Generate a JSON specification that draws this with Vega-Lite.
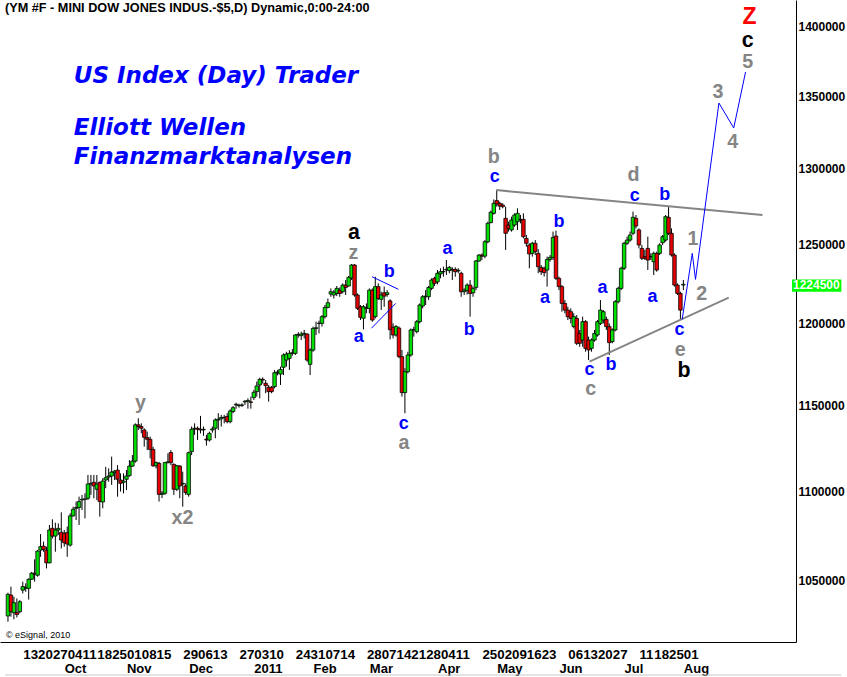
{
"$schema": "https://vega.github.io/schema/vega-lite/v6.json",
"width": 796,
"height": 642,
"autosize": {"type": "none"},
"padding": {"left": 0, "top": 0, "right": 51, "bottom": 35},
"background": "#ffffff",
"config": {"view": {"stroke": null}, "axis": {"labelOverlap": false, "labelFlush": false, "labelBound": false}},
"resolve": {"axis": {"x": "independent"}},
"datasets": {
"candles": [
{"n":2,"o":10310,"h":10435,"l":10279,"c":10426},
{"n":3,"o":10422,"h":10468,"l":10306,"c":10333},
{"n":4,"o":10327,"h":10413,"l":10292,"c":10381},
{"n":5,"o":10329,"h":10404,"l":10302,"c":10318},
{"n":6,"o":10333,"h":10395,"l":10324,"c":10386},
{"n":7,"o":10449,"h":10495,"l":10431,"c":10468},
{"n":8,"o":10459,"h":10486,"l":10440,"c":10464},
{"n":9,"o":10459,"h":10513,"l":10398,"c":10508},
{"n":10,"o":10508,"h":10548,"l":10504,"c":10541},
{"n":11,"o":10541,"h":10617,"l":10495,"c":10536},
{"n":12,"o":10530,"h":10668,"l":10522,"c":10663},
{"n":13,"o":10668,"h":10757,"l":10631,"c":10687},
{"n":14,"o":10690,"h":10715,"l":10659,"c":10672},
{"n":15,"o":10668,"h":10687,"l":10567,"c":10598},
{"n":16,"o":10598,"h":10808,"l":10595,"c":10780},
{"n":17,"o":10789,"h":10840,"l":10733,"c":10746},
{"n":18,"o":10746,"h":10821,"l":10659,"c":10780},
{"n":19,"o":10780,"h":10817,"l":10752,"c":10789},
{"n":20,"o":10767,"h":10879,"l":10677,"c":10724},
{"n":21,"o":10762,"h":10780,"l":10687,"c":10709},
{"n":22,"o":10765,"h":10799,"l":10631,"c":10702},
{"n":23,"o":10696,"h":10874,"l":10687,"c":10859},
{"n":24,"o":10859,"h":10911,"l":10855,"c":10896},
{"n":25,"o":10902,"h":10940,"l":10836,"c":10906},
{"n":26,"o":10906,"h":10968,"l":10808,"c":10940},
{"n":27,"o":10949,"h":10978,"l":10892,"c":10953},
{"n":28,"o":10953,"h":10987,"l":10845,"c":10955},
{"n":29,"o":10959,"h":11092,"l":10949,"c":11040},
{"n":30,"o":11040,"h":11092,"l":10978,"c":11044},
{"n":31,"o":11050,"h":11092,"l":10959,"c":11029},
{"n":32,"o":11010,"h":11092,"l":10949,"c":11040},
{"n":33,"o":11050,"h":11053,"l":10855,"c":10940},
{"n":34,"o":10938,"h":11073,"l":10902,"c":11057},
{"n":35,"o":11063,"h":11139,"l":11016,"c":11076},
{"n":36,"o":11080,"h":11130,"l":11053,"c":11086},
{"n":37,"o":11086,"h":11198,"l":11035,"c":11109},
{"n":38,"o":11105,"h":11120,"l":11063,"c":11114},
{"n":39,"o":11120,"h":11149,"l":10968,"c":11067},
{"n":40,"o":11063,"h":11101,"l":10997,"c":11044},
{"n":41,"o":11050,"h":11101,"l":10987,"c":11057},
{"n":42,"o":11067,"h":11120,"l":11006,"c":11086},
{"n":43,"o":11088,"h":11178,"l":11082,"c":11143},
{"n":44,"o":11143,"h":11207,"l":11139,"c":11172},
{"n":45,"o":11172,"h":11393,"l":11163,"c":11384},
{"n":46,"o":11384,"h":11423,"l":11354,"c":11374},
{"n":47,"o":11374,"h":11393,"l":11334,"c":11364},
{"n":48,"o":11354,"h":11364,"l":11256,"c":11311},
{"n":49,"o":11309,"h":11344,"l":11236,"c":11299},
{"n":50,"o":11299,"h":11315,"l":11188,"c":11240},
{"n":51,"o":11240,"h":11256,"l":11139,"c":11145},
{"n":52,"o":11145,"h":11170,"l":11130,"c":11163},
{"n":53,"o":11159,"h":11168,"l":10940,"c":10981},
{"n":54,"o":10981,"h":11000,"l":10960,"c":10987},
{"n":55,"o":10987,"h":11168,"l":10978,"c":11163},
{"n":56,"o":11163,"h":11217,"l":11159,"c":11168},
{"n":57,"o":11222,"h":11236,"l":11149,"c":11163},
{"n":58,"o":11153,"h":11159,"l":10978,"c":11010},
{"n":59,"o":11010,"h":11150,"l":11000,"c":11145},
{"n":60,"o":11143,"h":11149,"l":10959,"c":11029},
{"n":61,"o":11040,"h":11111,"l":10911,"c":11044},
{"n":62,"o":11029,"h":11044,"l":10978,"c":10991},
{"n":63,"o":10981,"h":11227,"l":10968,"c":11221},
{"n":64,"o":11227,"h":11374,"l":11207,"c":11358},
{"n":65,"o":11360,"h":11393,"l":11325,"c":11364},
{"n":66,"o":11364,"h":11374,"l":11295,"c":11358},
{"n":67,"o":11358,"h":11437,"l":11334,"c":11354},
{"n":68,"o":11354,"h":11374,"l":11319,"c":11358},
{"n":69,"o":11300,"h":11325,"l":11262,"c":11295},
{"n":70,"o":11295,"h":11344,"l":11286,"c":11334},
{"n":71,"o":11354,"h":11374,"l":11338,"c":11360},
{"n":72,"o":11364,"h":11423,"l":11305,"c":11413},
{"n":73,"o":11413,"h":11453,"l":11354,"c":11417},
{"n":74,"o":11420,"h":11443,"l":11374,"c":11427},
{"n":75,"o":11427,"h":11443,"l":11393,"c":11429},
{"n":76,"o":11433,"h":11453,"l":11393,"c":11403},
{"n":77,"o":11403,"h":11476,"l":11393,"c":11466},
{"n":78,"o":11463,"h":11496,"l":11453,"c":11486},
{"n":79,"o":11502,"h":11516,"l":11480,"c":11506},
{"n":80,"o":11498,"h":11510,"l":11486,"c":11500},
{"n":81,"o":11500,"h":11512,"l":11490,"c":11502},
{"n":82,"o":11520,"h":11532,"l":11502,"c":11524},
{"n":83,"o":11524,"h":11542,"l":11480,"c":11528},
{"n":84,"o":11520,"h":11552,"l":11480,"c":11518},
{"n":85,"o":11546,"h":11592,"l":11532,"c":11578},
{"n":86,"o":11582,"h":11642,"l":11552,"c":11616},
{"n":87,"o":11622,"h":11666,"l":11542,"c":11656},
{"n":88,"o":11656,"h":11668,"l":11630,"c":11652},
{"n":89,"o":11632,"h":11652,"l":11572,"c":11618},
{"n":90,"o":11608,"h":11622,"l":11522,"c":11582},
{"n":91,"o":11608,"h":11616,"l":11572,"c":11582},
{"n":92,"o":11612,"h":11712,"l":11602,"c":11696},
{"n":93,"o":11696,"h":11712,"l":11680,"c":11700},
{"n":94,"o":11688,"h":11733,"l":11622,"c":11716},
{"n":95,"o":11729,"h":11814,"l":11682,"c":11804},
{"n":96,"o":11773,"h":11824,"l":11733,"c":11810},
{"n":97,"o":11783,"h":11834,"l":11713,"c":11814},
{"n":98,"o":11814,"h":11840,"l":11800,"c":11818},
{"n":99,"o":11814,"h":11933,"l":11804,"c":11927},
{"n":100,"o":11927,"h":11945,"l":11910,"c":11931},
{"n":101,"o":11923,"h":11948,"l":11896,"c":11933},
{"n":102,"o":11933,"h":11958,"l":11906,"c":11937},
{"n":103,"o":11933,"h":11937,"l":11763,"c":11773},
{"n":104,"o":11747,"h":11845,"l":11682,"c":11834},
{"n":105,"o":11834,"h":11979,"l":11824,"c":11968},
{"n":106,"o":11968,"h":12010,"l":11927,"c":11972},
{"n":107,"o":11999,"h":12016,"l":11937,"c":12000},
{"n":108,"o":11999,"h":12051,"l":11979,"c":12041},
{"n":109,"o":12041,"h":12114,"l":12030,"c":12099},
{"n":110,"o":12099,"h":12155,"l":12093,"c":12128},
{"n":111,"o":12183,"h":12219,"l":12166,"c":12198},
{"n":112,"o":12177,"h":12208,"l":12155,"c":12194},
{"n":113,"o":12187,"h":12234,"l":12170,"c":12219},
{"n":114,"o":12208,"h":12225,"l":12166,"c":12187},
{"n":115,"o":12198,"h":12251,"l":12187,"c":12240},
{"n":116,"o":12240,"h":12272,"l":12177,"c":12225},
{"n":117,"o":12234,"h":12298,"l":12230,"c":12289},
{"n":118,"o":12285,"h":12374,"l":12272,"c":12368},
{"n":119,"o":12368,"h":12374,"l":12166,"c":12177},
{"n":120,"o":12177,"h":12187,"l":12083,"c":12093},
{"n":121,"o":12103,"h":12114,"l":12020,"c":12037},
{"n":122,"o":12031,"h":12114,"l":11962,"c":12103},
{"n":123,"o":12093,"h":12124,"l":12062,"c":12098},
{"n":124,"o":12093,"h":12219,"l":12062,"c":12208},
{"n":125,"o":12208,"h":12219,"l":12010,"c":12020},
{"n":126,"o":12041,"h":12293,"l":12030,"c":12230},
{"n":127,"o":12230,"h":12251,"l":12145,"c":12155},
{"n":128,"o":12150,"h":12198,"l":12083,"c":12177},
{"n":129,"o":12191,"h":12230,"l":12103,"c":12170},
{"n":130,"o":12180,"h":12208,"l":12166,"c":12191},
{"n":131,"o":12140,"h":12150,"l":11900,"c":11960},
{"n":132,"o":11975,"h":11999,"l":11906,"c":11927},
{"n":133,"o":11927,"h":11989,"l":11917,"c":11979},
{"n":134,"o":11970,"h":11980,"l":11784,"c":11794},
{"n":135,"o":11794,"h":11835,"l":11552,"c":11576},
{"n":136,"o":11576,"h":11723,"l":11453,"c":11702},
{"n":137,"o":11702,"h":11824,"l":11692,"c":11804},
{"n":138,"o":11804,"h":11968,"l":11794,"c":11958},
{"n":139,"o":11958,"h":11979,"l":11917,"c":11962},
{"n":140,"o":11948,"h":12020,"l":11937,"c":12010},
{"n":141,"o":12010,"h":12124,"l":11999,"c":12114},
{"n":142,"o":12108,"h":12177,"l":12093,"c":12166},
{"n":143,"o":12166,"h":12208,"l":12114,"c":12170},
{"n":144,"o":12166,"h":12234,"l":12145,"c":12225},
{"n":145,"o":12219,"h":12283,"l":12208,"c":12272},
{"n":146,"o":12283,"h":12293,"l":12234,"c":12251},
{"n":147,"o":12260,"h":12336,"l":12245,"c":12315},
{"n":148,"o":12311,"h":12347,"l":12283,"c":12325},
{"n":149,"o":12325,"h":12357,"l":12293,"c":12326},
{"n":150,"o":12336,"h":12400,"l":12304,"c":12340},
{"n":151,"o":12332,"h":12362,"l":12315,"c":12353},
{"n":152,"o":12340,"h":12353,"l":12272,"c":12336},
{"n":153,"o":12340,"h":12353,"l":12293,"c":12325},
{"n":154,"o":12330,"h":12347,"l":12315,"c":12334},
{"n":155,"o":12315,"h":12325,"l":12166,"c":12198},
{"n":156,"o":12198,"h":12219,"l":12177,"c":12208},
{"n":157,"o":12205,"h":12251,"l":12180,"c":12240},
{"n":158,"o":12240,"h":12272,"l":12041,"c":12187},
{"n":159,"o":12191,"h":12230,"l":12166,"c":12219},
{"n":160,"o":12225,"h":12400,"l":12208,"c":12394},
{"n":161,"o":12394,"h":12438,"l":12389,"c":12432},
{"n":162,"o":12432,"h":12443,"l":12400,"c":12425},
{"n":163,"o":12425,"h":12529,"l":12411,"c":12518},
{"n":164,"o":12518,"h":12649,"l":12508,"c":12638},
{"n":165,"o":12643,"h":12722,"l":12638,"c":12711},
{"n":166,"o":12704,"h":12796,"l":12695,"c":12770},
{"n":167,"o":12788,"h":12858,"l":12748,"c":12766},
{"n":168,"o":12770,"h":12781,"l":12726,"c":12752},
{"n":169,"o":12759,"h":12770,"l":12737,"c":12748},
{"n":170,"o":12671,"h":12748,"l":12465,"c":12573},
{"n":171,"o":12627,"h":12649,"l":12584,"c":12605},
{"n":172,"o":12595,"h":12682,"l":12584,"c":12660},
{"n":173,"o":12627,"h":12704,"l":12616,"c":12693},
{"n":174,"o":12649,"h":12737,"l":12595,"c":12704},
{"n":175,"o":12660,"h":12693,"l":12638,"c":12664},
{"n":176,"o":12664,"h":12704,"l":12540,"c":12551},
{"n":177,"o":12540,"h":12562,"l":12486,"c":12508},
{"n":178,"o":12497,"h":12508,"l":12347,"c":12439},
{"n":179,"o":12443,"h":12518,"l":12422,"c":12508},
{"n":180,"o":12508,"h":12529,"l":12432,"c":12454},
{"n":181,"o":12443,"h":12470,"l":12315,"c":12357},
{"n":182,"o":12353,"h":12368,"l":12304,"c":12325},
{"n":183,"o":12347,"h":12357,"l":12294,"c":12319},
{"n":184,"o":12336,"h":12422,"l":12230,"c":12404},
{"n":185,"o":12404,"h":12432,"l":12389,"c":12417},
{"n":186,"o":12417,"h":12584,"l":12400,"c":12546},
{"n":187,"o":12555,"h":12590,"l":12272,"c":12283},
{"n":188,"o":12283,"h":12294,"l":12208,"c":12230},
{"n":189,"o":12230,"h":12240,"l":12072,"c":12124},
{"n":190,"o":12124,"h":12145,"l":12062,"c":12082},
{"n":191,"o":12082,"h":12103,"l":12020,"c":12041},
{"n":192,"o":12072,"h":12093,"l":11999,"c":12030},
{"n":193,"o":11979,"h":12062,"l":11968,"c":12041},
{"n":194,"o":12030,"h":12051,"l":11865,"c":11876},
{"n":195,"o":11937,"h":11958,"l":11855,"c":11876},
{"n":196,"o":11896,"h":12041,"l":11855,"c":12010},
{"n":197,"o":12010,"h":12020,"l":11824,"c":11845},
{"n":198,"o":11896,"h":11917,"l":11773,"c":11835},
{"n":199,"o":11845,"h":11906,"l":11824,"c":11896},
{"n":200,"o":11896,"h":11958,"l":11886,"c":11937},
{"n":201,"o":11927,"h":12020,"l":11917,"c":12010},
{"n":202,"o":11999,"h":12145,"l":11989,"c":12082},
{"n":203,"o":12020,"h":12082,"l":11999,"c":12072},
{"n":204,"o":12024,"h":12041,"l":11958,"c":11979},
{"n":205,"o":11979,"h":11999,"l":11804,"c":11880},
{"n":206,"o":11886,"h":11968,"l":11876,"c":11958},
{"n":207,"o":11958,"h":12145,"l":11950,"c":12135},
{"n":208,"o":12135,"h":12230,"l":12124,"c":12219},
{"n":209,"o":12219,"h":12357,"l":12208,"c":12347},
{"n":210,"o":12347,"h":12518,"l":12336,"c":12508},
{"n":211,"o":12508,"h":12551,"l":12497,"c":12529},
{"n":212,"o":12529,"h":12584,"l":12518,"c":12562},
{"n":213,"o":12573,"h":12715,"l":12562,"c":12678},
{"n":214,"o":12671,"h":12693,"l":12605,"c":12621},
{"n":215,"o":12595,"h":12605,"l":12475,"c":12497},
{"n":216,"o":12475,"h":12497,"l":12400,"c":12411},
{"n":217,"o":12422,"h":12465,"l":12400,"c":12411},
{"n":218,"o":12475,"h":12551,"l":12336,"c":12400},
{"n":219,"o":12422,"h":12443,"l":12400,"c":12420},
{"n":220,"o":12389,"h":12454,"l":12304,"c":12443},
{"n":221,"o":12443,"h":12454,"l":12325,"c":12336},
{"n":222,"o":12443,"h":12508,"l":12432,"c":12497},
{"n":223,"o":12512,"h":12562,"l":12497,"c":12551},
{"n":224,"o":12529,"h":12693,"l":12518,"c":12682},
{"n":225,"o":12678,"h":12748,"l":12562,"c":12573},
{"n":226,"o":12573,"h":12605,"l":12422,"c":12432},
{"n":227,"o":12432,"h":12443,"l":12230,"c":12240},
{"n":228,"o":12240,"h":12251,"l":12177,"c":12187},
{"n":229,"o":12187,"h":12198,"l":12024,"c":12082},
{"n":230,"o":12240,"h":12272,"l":12208,"c":12245}
],
"lines": [
{"id":"upper","kind":"trend","n":166.8,"p":12858},
{"id":"upper","kind":"trend","n":256.7,"p":12693},
{"id":"lower","kind":"trend","n":198.3,"p":11764},
{"id":"lower","kind":"trend","n":245.3,"p":12161},
{"id":"tri1","kind":"wave","n":124.9,"p":12293},
{"id":"tri1","kind":"wave","n":133.8,"p":12213},
{"id":"tri2","kind":"wave","n":124.7,"p":11969},
{"id":"tri2","kind":"wave","n":132.9,"p":12124},
{"id":"proj","kind":"wave","n":229.6,"p":12024},
{"id":"proj","kind":"wave","n":233,"p":12443},
{"id":"proj","kind":"wave","n":234.1,"p":12276},
{"id":"proj","kind":"wave","n":242,"p":13452},
{"id":"proj","kind":"wave","n":247,"p":13279},
{"id":"proj","kind":"wave","n":251,"p":13670}
],
"notes": [
{"n":46.7,"p":11514,"t":"y","g":"minute"},
{"n":60.9,"p":10846,"t":"x2","g":"minute"},
{"n":118.8,"p":12578,"t":"a","g":"minor"},
{"n":118.6,"p":12443,"t":"z","g":"minute"},
{"n":130.7,"p":12325,"t":"b","g":"minuette"},
{"n":120.4,"p":11912,"t":"a","g":"minuette"},
{"n":135.6,"p":11390,"t":"c","g":"minuette"},
{"n":135.7,"p":11278,"t":"a","g":"minute"},
{"n":150.4,"p":12471,"t":"a","g":"minuette"},
{"n":157.7,"p":11958,"t":"b","g":"minuette"},
{"n":166,"p":13078,"t":"b","g":"minute"},
{"n":166.3,"p":12945,"t":"c","g":"minuette"},
{"n":188,"p":12649,"t":"b","g":"minuette"},
{"n":183.3,"p":12161,"t":"a","g":"minuette"},
{"n":198.3,"p":11712,"t":"c","g":"minuette"},
{"n":198.7,"p":11598,"t":"c","g":"minute"},
{"n":205.6,"p":11743,"t":"b","g":"minuette"},
{"n":202.7,"p":12219,"t":"a","g":"minuette"},
{"n":213.2,"p":12956,"t":"d","g":"minute"},
{"n":213.6,"p":12820,"t":"c","g":"minuette"},
{"n":223.7,"p":12825,"t":"b","g":"minuette"},
{"n":219.6,"p":12164,"t":"a","g":"minuette"},
{"n":233.2,"p":12536,"t":"1","g":"minute"},
{"n":236.2,"p":12183,"t":"2","g":"minute"},
{"n":228.7,"p":11955,"t":"c","g":"minuette"},
{"n":228.9,"p":11836,"t":"e","g":"minute"},
{"n":230.2,"p":11706,"t":"b","g":"minor"},
{"n":241.7,"p":13529,"t":"3","g":"minute"},
{"n":246.7,"p":13182,"t":"4","g":"minute"},
{"n":251.7,"p":13741,"t":"5","g":"minute"},
{"n":251.7,"p":13892,"t":"c","g":"minor"},
{"n":252.3,"p":14066,"t":"Z","g":"intermediate"}
],
"titles": [
{"n":24.2,"p":13595,"t":"US Index (Day) Trader"},
{"n":24.2,"p":13234,"t":"Elliott Wellen"},
{"n":24.2,"p":13033,"t":"Finanzmarktanalysen"}
],
"captions": [
{"id":"header","n":1,"p":14105,"t":"(YM #F - MINI DOW JONES INDUS.-$5,D) Dynamic,0:00-24:00"},
{"id":"copyright","n":1.33,"p":10193,"t":"© eSignal, 2010"}
],
"last": [
{"n":266.67,"n2":283.33,"lo":12197,"hi":12276,"p":12245,"t":"1224500"}
],
"frame": [
{"n":1,"n2":283.33,"p":9999}
]
},
"layer": [
{
"data": {"name": "candles"},
"mark": {"type": "rule", "color": "#000000", "strokeWidth": 1},
"encoding": {
"x": {"field": "n", "type": "quantitative", "title": null,
"scale": {"domain": [1, 266.3333], "nice": false, "zero": false},
"axis": {"orient": "bottom", "title": null, "grid": false, "ticks": false, "tickSize": 0,
"values": [7,12,17,22,27,32,37,42,47,52,61,66,71,80,85,90,99,104,109,114,123,128,133,138,143,148,153,162,167,172,177,182,191,196,201,206,215,220,225,230],
"labelExpr": "['13','20','27','04','11','18','25','01','08','15','29','06','13','27','03','10','24','31','07','14','28','07','14','21','28','04','11','25','02','09','16','23','06','13','20','27','11','18','25','01'][indexof([7,12,17,22,27,32,37,42,47,52,61,66,71,80,85,90,99,104,109,114,123,128,133,138,143,148,153,162,167,172,177,182,191,196,201,206,215,220,225,230],datum.value)]",
"labelAlign": "left", "labelBaseline": "top", "labelPadding": 5,
"labelOverlap": false, "labelFlush": false, "labelBound": false,
"labelFont": "Liberation Sans", "labelFontWeight": "bold", "labelFontSize": 13.3, "labelColor": "#000000",
"domainColor": "#000000", "domainWidth": 1}},
"y": {"field": "l", "type": "quantitative", "title": null,
"scale": {"type": "log", "domain": [10171.6, 14190.1], "nice": false},
"axis": {"orient": "right", "title": null, "grid": false, "ticks": false, "tickSize": 0,
"values": [10500,11000,11500,12000,12500,13000,13500,14000],
"labelExpr": "format(datum.value*100,'d')",
"labelAlign": "left", "labelBaseline": "middle", "labelPadding": 2,
"labelOverlap": false, "labelFlush": false, "labelBound": false,
"labelFont": "Liberation Sans", "labelFontWeight": "bold", "labelFontSize": 12, "labelColor": "#000000",
"domainColor": "#000000", "domainWidth": 1}},
"y2": {"field": "h"}
}
},
{
"data": {"name": "candles"},
"mark": {"type": "bar", "width": 3.5, "stroke": "#000000", "strokeWidth": 0.8},
"encoding": {
"x": {"field": "n", "type": "quantitative", "title": null, "axis": null},
"y": {"field": "o", "type": "quantitative", "title": null},
"y2": {"field": "c"},
"fill": {"condition": {"test": "datum.c >= datum.o", "value": "#00e000"}, "value": "#e80000"}
}
},
{
"data": {"name": "lines"},
"transform": [{"filter": "datum.kind == 'trend'"}],
"mark": {"type": "line", "color": "#858585", "strokeWidth": 2},
"encoding": {
"x": {"field": "n", "type": "quantitative", "title": null, "axis": null},
"y": {"field": "p", "type": "quantitative", "title": null},
"detail": {"field": "id", "type": "nominal"}
}
},
{
"data": {"name": "lines"},
"transform": [{"filter": "datum.kind == 'wave'"}],
"mark": {"type": "line", "color": "#0000ff", "strokeWidth": 1},
"encoding": {
"x": {"field": "n", "type": "quantitative", "title": null, "axis": null},
"y": {"field": "p", "type": "quantitative", "title": null},
"detail": {"field": "id", "type": "nominal"}
}
},
{
"data": {"name": "notes"},
"mark": {"type": "text", "font": "Liberation Sans", "fontWeight": "bold", "align": "center", "baseline": "middle"},
"encoding": {
"x": {"field": "n", "type": "quantitative", "title": null, "axis": null},
"y": {"field": "p", "type": "quantitative", "title": null},
"text": {"field": "t"},
"color": {"field": "g", "type": "nominal", "legend": null,
"scale": {"domain": ["minuette","minute","minor","intermediate"], "range": ["#0000ff","#858585","#000000","#ff0000"]}},
"size": {"field": "g", "type": "ordinal", "legend": null,
"scale": {"domain": ["minuette","minute","minor","intermediate"], "range": [18,23,31,38]}}
}
},
{
"data": {"name": "titles"},
"mark": {"type": "text", "font": "DejaVu Sans", "fontWeight": "bold", "fontStyle": "italic", "fontSize": 23, "align": "left", "baseline": "alphabetic", "color": "#0000ff"},
"encoding": {
"x": {"field": "n", "type": "quantitative", "title": null, "axis": null},
"y": {"field": "p", "type": "quantitative", "title": null},
"text": {"field": "t"}
}
},
{
"data": {"name": "captions"},
"transform": [{"filter": "datum.id == 'header'"}],
"mark": {"type": "text", "font": "Liberation Sans", "fontWeight": "bold", "fontSize": 12.7, "align": "left", "baseline": "alphabetic", "color": "#000000"},
"encoding": {
"x": {"field": "n", "type": "quantitative", "title": null, "axis": null},
"y": {"field": "p", "type": "quantitative", "title": null},
"text": {"field": "t"}
}
},
{
"data": {"name": "captions"},
"transform": [{"filter": "datum.id == 'copyright'"}],
"mark": {"type": "text", "font": "Liberation Sans", "fontSize": 9, "align": "left", "baseline": "alphabetic", "color": "#000000"},
"encoding": {
"x": {"field": "n", "type": "quantitative", "title": null, "axis": null},
"y": {"field": "p", "type": "quantitative", "title": null},
"text": {"field": "t"}
}
},
{
"data": {"name": "last"},
"mark": {"type": "rect", "color": "#00ff00"},
"encoding": {
"x": {"field": "n", "type": "quantitative", "title": null, "axis": null},
"x2": {"field": "n2"},
"y": {"field": "lo", "type": "quantitative", "title": null},
"y2": {"field": "hi"}
}
},
{
"data": {"name": "last"},
"mark": {"type": "text", "font": "Liberation Sans", "fontWeight": "bold", "fontSize": 12, "align": "left", "baseline": "middle", "color": "#ffffff", "dx": 1, "dy": 1},
"encoding": {
"x": {"field": "n", "type": "quantitative", "title": null, "axis": null},
"y": {"field": "p", "type": "quantitative", "title": null},
"text": {"field": "t"}
}
},
{
"data": {"name": "frame"},
"mark": {"type": "rule", "color": "#c8c8c8", "strokeWidth": 1},
"encoding": {
"x": {"field": "n", "type": "quantitative", "title": null,
"axis": {"orient": "bottom", "title": null, "grid": false, "ticks": false, "tickSize": 0, "domain": false,
"values": [21,42,63,85,105,124,147,167,188,210,230],
"labelExpr": "['Oct','Nov','Dec','2011','Feb','Mar','Apr','May','Jun','Jul','Aug'][indexof([21,42,63,85,105,124,147,167,188,210,230],datum.value)]",
"labelAlign": "left", "labelBaseline": "top", "labelPadding": 20.5,
"labelOverlap": false, "labelFlush": false, "labelBound": false,
"labelFont": "Liberation Sans", "labelFontWeight": "bold", "labelFontSize": 13, "labelColor": "#000000"}},
"x2": {"field": "n2"},
"y": {"field": "p", "type": "quantitative", "title": null}
}
}
]
}
